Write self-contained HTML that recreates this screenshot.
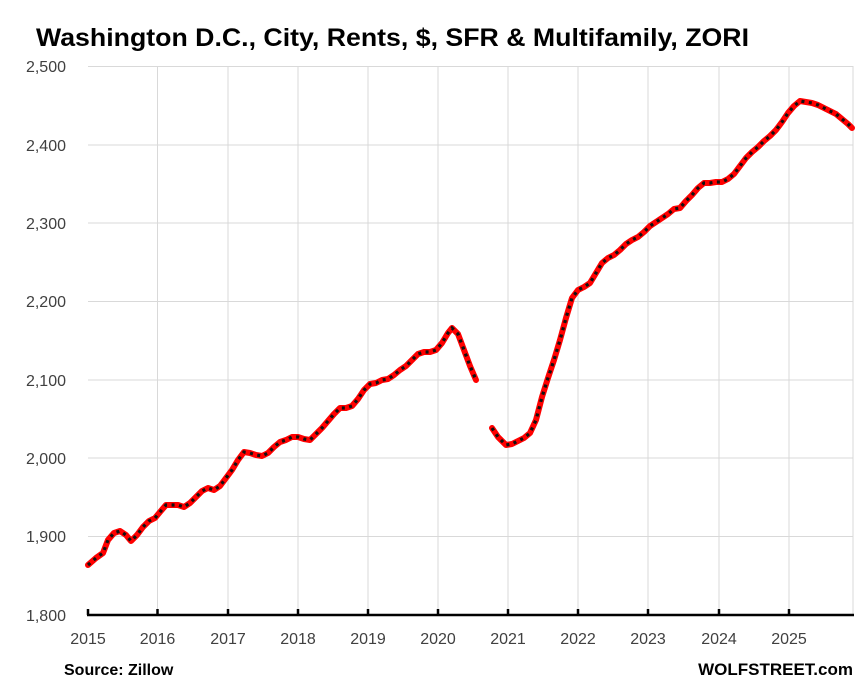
<!DOCTYPE html>
<html><head><style>body{margin:0;background:#fff}svg{display:block}</style></head><body>
<svg width="866" height="693" xmlns="http://www.w3.org/2000/svg" font-family="Liberation Sans, sans-serif">
<rect width="866" height="693" fill="#fff"/>
<text x="36" y="46" font-size="25" font-weight="bold" fill="#000" textLength="713" lengthAdjust="spacingAndGlyphs">Washington D.C., City, Rents, $, SFR &amp; Multifamily, ZORI</text>
<g stroke="#d9d9d9" stroke-width="1">
<line x1="88" y1="66.5" x2="853" y2="66.5"/><line x1="88" y1="145" x2="853" y2="145"/><line x1="88" y1="223" x2="853" y2="223"/><line x1="88" y1="301.5" x2="853" y2="301.5"/><line x1="88" y1="380" x2="853" y2="380"/><line x1="88" y1="458" x2="853" y2="458"/><line x1="88" y1="536.5" x2="853" y2="536.5"/>
<line x1="157.5" y1="66" x2="157.5" y2="615"/><line x1="228" y1="66" x2="228" y2="615"/><line x1="298" y1="66" x2="298" y2="615"/><line x1="368" y1="66" x2="368" y2="615"/><line x1="438" y1="66" x2="438" y2="615"/><line x1="508" y1="66" x2="508" y2="615"/><line x1="578" y1="66" x2="578" y2="615"/><line x1="648" y1="66" x2="648" y2="615"/><line x1="719" y1="66" x2="719" y2="615"/><line x1="789" y1="66" x2="789" y2="615"/><line x1="853" y1="66" x2="853" y2="615"/>
</g>
<g stroke="#000" stroke-width="2.5">
<line x1="87" y1="615" x2="854" y2="615"/>
<line x1="88" y1="609" x2="88" y2="615"/><line x1="157.5" y1="609" x2="157.5" y2="615"/><line x1="228" y1="609" x2="228" y2="615"/><line x1="298" y1="609" x2="298" y2="615"/><line x1="368" y1="609" x2="368" y2="615"/><line x1="438" y1="609" x2="438" y2="615"/><line x1="508" y1="609" x2="508" y2="615"/><line x1="578" y1="609" x2="578" y2="615"/><line x1="648" y1="609" x2="648" y2="615"/><line x1="719" y1="609" x2="719" y2="615"/><line x1="789" y1="609" x2="789" y2="615"/>
</g>
<g font-size="16" fill="#404040" text-anchor="end">
<text x="66" y="72">2,500</text><text x="66" y="151">2,400</text><text x="66" y="229">2,300</text><text x="66" y="307">2,200</text><text x="66" y="386">2,100</text><text x="66" y="464">2,000</text><text x="66" y="542">1,900</text><text x="66" y="621">1,800</text>
</g>
<g font-size="16" fill="#404040" text-anchor="middle">
<text x="88" y="644">2015</text><text x="157.5" y="644">2016</text><text x="228" y="644">2017</text><text x="298" y="644">2018</text><text x="368" y="644">2019</text><text x="438" y="644">2020</text><text x="508" y="644">2021</text><text x="578" y="644">2022</text><text x="648" y="644">2023</text><text x="719" y="644">2024</text><text x="789" y="644">2025</text>
</g>
<text x="64" y="675" font-size="16" font-weight="bold" fill="#000">Source: Zillow</text>
<text x="853" y="675" font-size="17" font-weight="bold" fill="#000" text-anchor="end">WOLFSTREET.com</text>
<g fill="none" stroke-linejoin="round" stroke-linecap="round">
<path stroke="#ff0000" stroke-width="6" d="M88,565 L96,558 L103,553 L108,540 L114,533 L120,531 L126,535 L131,541 L137,535 L143,527 L149,521 L155,518 L160,512 L166,505 L172,505 L178,505 L184,507 L190,503 L196,497 L202,491 L208,488 L214,490 L220,486 L226,478 L232,470 L238,460 L244,452 L250,453 L256,455 L262,456 L268,453 L274,447 L280,442 L286,440 L292,437 L298,437 L304,439 L310,440 L316,434 L322,428 L328,421 L334,414 L340,408 L346,408 L352,406 L358,399 L364,390 L370,384 L376,383 L382,380 L388,379 L394,375 L400,370 L406,366 L412,360 L418,354 L424,352 L430,352 L436,350 L442,343 L448,333 L452,328 L458,334 L464,350 L470,366 L476,380"/>
<path stroke="#ff0000" stroke-width="6" d="M492,428 L498,437 L506,445 L512,444 L518,441 L524,438 L530,433 L536,420 L542,397 L548,378 L554,360 L560,340 L566,318 L572,298 L578,290 L584,287 L590,283 L596,273 L602,263 L608,258 L614,255 L620,250 L626,244 L632,240 L638,237 L644,232 L650,226 L656,222 L662,218 L668,214 L674,209 L680,208 L686,201 L692,195 L698,188 L704,183 L710,183 L716,182 L722,182 L728,179 L734,174 L740,166 L746,158 L752,152 L758,147 L764,141 L770,136 L776,130 L782,122 L788,113 L794,106 L800,101 L806,102 L812,103 L818,105 L824,108 L830,111 L836,114 L842,119 L848,124 L852,128"/>
</g>
<g fill="none" stroke="#111" stroke-width="3.2" stroke-dasharray="3 4.5">
<path d="M88,565 L96,558 L103,553 L108,540 L114,533 L120,531 L126,535 L131,541 L137,535 L143,527 L149,521 L155,518 L160,512 L166,505 L172,505 L178,505 L184,507 L190,503 L196,497 L202,491 L208,488 L214,490 L220,486 L226,478 L232,470 L238,460 L244,452 L250,453 L256,455 L262,456 L268,453 L274,447 L280,442 L286,440 L292,437 L298,437 L304,439 L310,440 L316,434 L322,428 L328,421 L334,414 L340,408 L346,408 L352,406 L358,399 L364,390 L370,384 L376,383 L382,380 L388,379 L394,375 L400,370 L406,366 L412,360 L418,354 L424,352 L430,352 L436,350 L442,343 L448,333 L452,328 L458,334 L464,350 L470,366 L476,380"/>
<path d="M492,428 L498,437 L506,445 L512,444 L518,441 L524,438 L530,433 L536,420 L542,397 L548,378 L554,360 L560,340 L566,318 L572,298 L578,290 L584,287 L590,283 L596,273 L602,263 L608,258 L614,255 L620,250 L626,244 L632,240 L638,237 L644,232 L650,226 L656,222 L662,218 L668,214 L674,209 L680,208 L686,201 L692,195 L698,188 L704,183 L710,183 L716,182 L722,182 L728,179 L734,174 L740,166 L746,158 L752,152 L758,147 L764,141 L770,136 L776,130 L782,122 L788,113 L794,106 L800,101 L806,102 L812,103 L818,105 L824,108 L830,111 L836,114 L842,119 L848,124 L852,128"/>
</g>
</svg>
</body></html>
